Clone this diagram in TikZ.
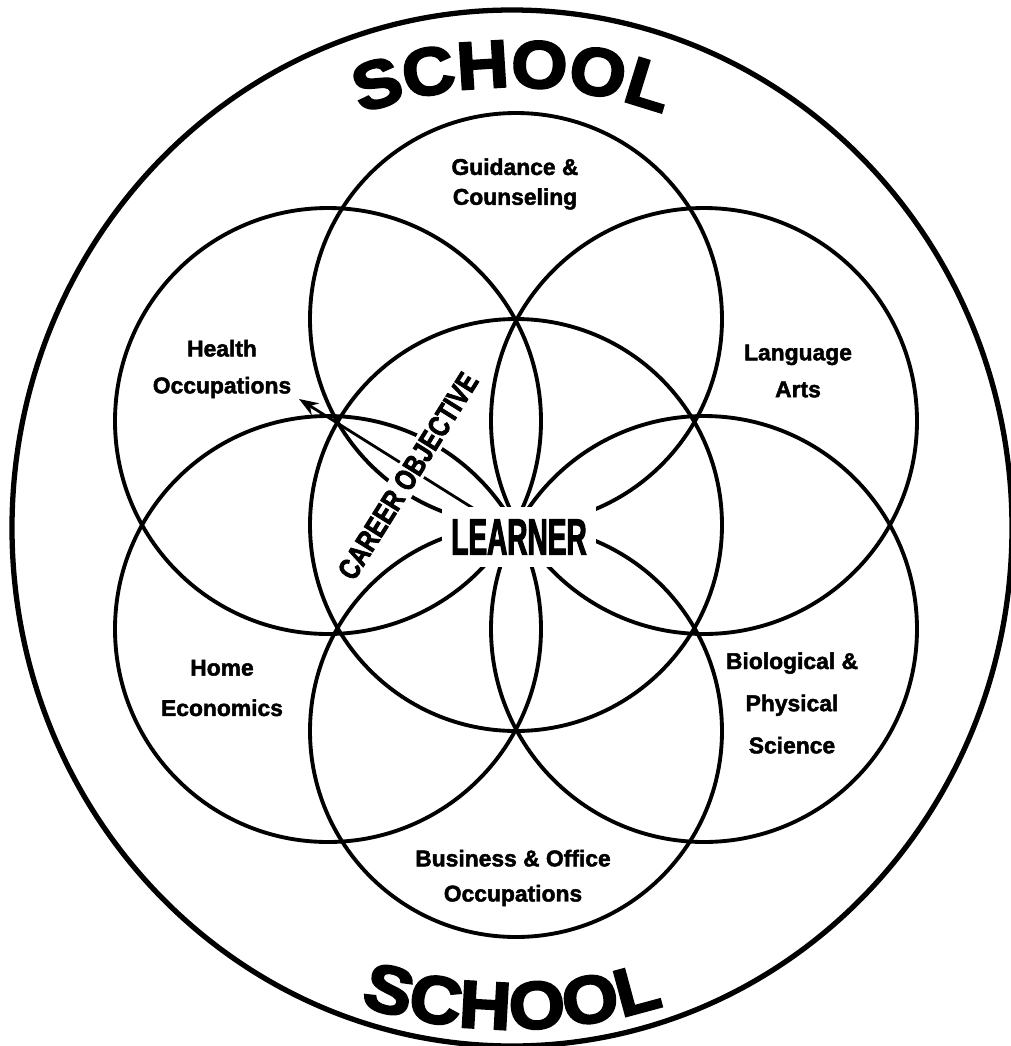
\documentclass[tikz,border=0pt]{standalone}
\usepackage{fontspec}
\setmainfont{Liberation Sans}
\newfontfamily\labelfont[FakeBold=2]{Liberation Sans Bold}
\newfontfamily\learnerfont[FakeStretch=0.55, FakeBold=2]{Liberation Sans Bold}
\newfontfamily\careerfont[FakeStretch=0.78, FakeBold=2.5]{Liberation Sans Bold}
\newfontfamily\schoolfont[FakeStretch=1.08, FakeBold=3.5]{Liberation Sans Bold}
\usetikzlibrary{arrows.meta,calc,decorations.text}

\begin{document}
\begin{tikzpicture}[x=0.02cm, y=0.02cm,
	ring/.style={line width=2.2pt},
	area/.style={inner sep=0pt, align=center, font=\labelfont\fontsize{13}{21}\selectfont},
	hubtext/.style={fill=white, inner xsep=5pt, inner ysep=7pt, font=\learnerfont\fontsize{29}{29}\selectfont},
	careertext/.style={fill=white, inner sep=2pt, font=\careerfont\fontsize{17}{17}\selectfont},
	pointer/.style={line width=1.6pt, -{Stealth[length=11pt, width=8pt]}}]
	\useasboundingbox (0,0) rectangle (1011,-1046);
	\coordinate (hub) at (516,-525);
	\coordinate (schoolhub) at (512,-528);
	\coordinate (learnerpos) at (519,-537);
	\coordinate (tip) at (299,-399);
	\draw[line width=3pt] (schoolhub) ellipse [x radius=500, y radius=518];
	\draw[ring] (hub) circle (206);
	\foreach \dy in {206,-206}
		\draw[ring] ($(hub)+(0,\dy)$) circle (206);
	\foreach \dx/\dy in {-188/104,188/104,-188/-104,188/-104}
		\draw[ring] ($(hub)+(\dx,\dy)$) circle (213);
	\draw[pointer] (learnerpos) -- (tip);
	\node[careertext, rotate=58] (career) at (408,-476) {CAREER OBJECTIVE};
	\node[hubtext] (learner) at (learnerpos) {LEARNER};
	\node[area] (guidance) at (515,-184) {Guidance \&\\[-4pt]Counseling};
	\node[area] (health) at (222,-369) {Health\\Occupations};
	\node[area] (language) at (798,-371) {Language\\Arts};
	\node[area] (home) at (222,-688) {Home\\[2pt]Economics};
	\node[area] (science) at (792,-703) {Biological \&\\[3pt]Physical\\[3pt]Science};
	\node[area] (business) at (513,-878) {Business \& Office\\[-1pt]Occupations};
	\path[decorate, decoration={text along path, text align=center,
		text={|\schoolfont\fontsize{38}{38}\selectfont|SCHOOL}}]
		(schoolhub) ++(122:441) arc[start angle=122, end angle=58, radius=441];
	\path[decorate, decoration={text along path, text align=center,
		text={|\schoolfont\fontsize{38}{38}\selectfont|SCHOOL}}]
		(schoolhub) ++(-114:501) arc[start angle=-114, end angle=-66, radius=501];
\end{tikzpicture}
\end{document}
